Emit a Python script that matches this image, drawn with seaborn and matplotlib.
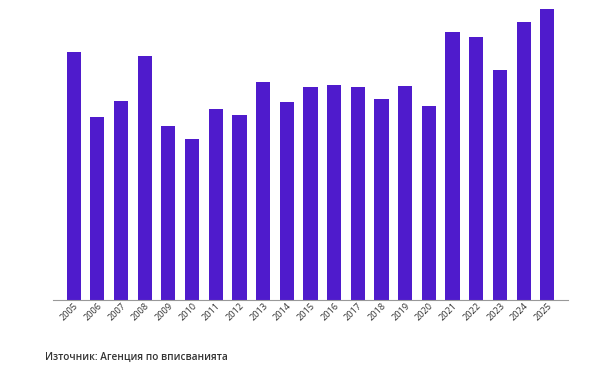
import numpy as np
import seaborn as sns
import matplotlib.pyplot as plt
import pandas as pd

years = [str(y) for y in range(2005, 2026)]
values = [248.3, 182.7, 199.0, 244.3, 174.3, 160.7, 190.7, 185.0, 217.7, 198.0,
          212.7, 215.0, 212.7, 201.0, 214.3, 194.0, 268.0, 263.3, 229.7, 278.0, 290.7]

df = pd.DataFrame({'year': years, 'value': values})

sns.set_theme(style="white")
plt.rcParams['font.family'] = ['Open Sans', 'DejaVu Sans']

fig = plt.figure(figsize=(6, 3.7), dpi=100)
ax = fig.add_axes([53 / 600, 70 / 370, (567.7 - 53) / 600, 295 / 370])

sns.barplot(x='year', y='value', data=df, color="#4f1bcc", saturation=1, width=0.6,
            linewidth=0, edgecolor="none", ax=ax)

ax.set_xlim(-0.87, 20.86)
ax.set_ylim(0, 295)
ax.set(xlabel="", ylabel="", yticks=[])
ax.tick_params(axis='x', length=0, pad=1, labelsize=6.6, colors="#333333")
for lab in ax.get_xticklabels():
    lab.set_rotation(45)
    lab.set_ha('right')
    lab.set_rotation_mode('anchor')

sns.despine(ax=ax, left=True, top=True, right=True)
ax.spines['bottom'].set_color("#999999")
ax.spines['bottom'].set_linewidth(0.8)

fig.text(45 / 600, 1 - 357 / 370, "Източник: Агенция по вписванията", fontsize=7.2,
         fontweight='semibold', color="#333333", va='center', ha='left')

fig.savefig("out.png", dpi=100)
